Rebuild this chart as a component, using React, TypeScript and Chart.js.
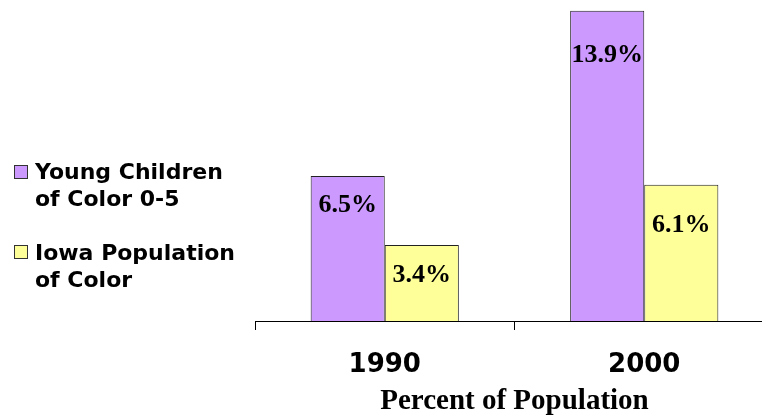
import React, { useEffect, useRef } from "react";
import { Chart, registerables } from "chart.js";

Chart.register(...registerables);

const categories = ["1990", "2000"];
const seriesNames = [
  ["Young Children", "of Color 0-5"],
  ["Iowa Population", "of Color"],
];
const youngChildren = [6.5, 13.9];
const iowaPopulation = [3.4, 6.1];
const valueLabels = [
  ["6.5%", "13.9%"],
  ["3.4%", "6.1%"],
];
const axisTitle = "Percent of Population";

const colors = ["#CC99FF", "#FFFF99"];
// vertical offset (px) of each value label below its bar top
const labelOffsets = [
  [29, 45],
  [30, 40],
];

const valueLabelPlugin = {
  id: "valueLabels",
  afterDatasetsDraw(chart: any) {
    const ctx = chart.ctx;
    ctx.save();
    ctx.font = "bold 26px 'Liberation Serif', 'Times New Roman', serif";
    ctx.fillStyle = "#000";
    ctx.textAlign = "center";
    ctx.textBaseline = "middle";
    chart.data.datasets.forEach((ds: any, di: number) => {
      const meta = chart.getDatasetMeta(di);
      meta.data.forEach((el: any, i: number) => {
        ctx.fillText(valueLabels[di][i], el.x, el.y + labelOffsets[di][i]);
      });
    });
    ctx.restore();
  },
};

export default function App() {
  const ref = useRef<HTMLCanvasElement | null>(null);
  useEffect(() => {
    if (!ref.current) return;
    const chart = new Chart(ref.current, {
      type: "bar",
      data: {
        labels: categories,
        datasets: [
          {
            label: seriesNames[0].join(" "),
            data: youngChildren,
            backgroundColor: colors[0],
            borderColor: "#222222",
            borderWidth: 1,
            categoryPercentage: 0.571,
            barPercentage: 1,
          },
          {
            label: seriesNames[1].join(" "),
            data: iowaPopulation,
            backgroundColor: colors[1],
            borderColor: "#222222",
            borderWidth: 1,
            categoryPercentage: 0.571,
            barPercentage: 1,
          },
        ],
      },
      options: {
        animation: false,
        responsive: false,
        layout: { padding: { left: 255, top: 8.5, right: 0, bottom: 0 } },
        plugins: {
          legend: { display: false },
          tooltip: { enabled: false },
        },
        scales: {
          x: {
            grid: {
              display: true,
              drawOnChartArea: false,
              drawTicks: true,
              tickLength: 9,
              color: "#000",
              offset: true,
            },
            border: { display: true, color: "#000", width: 1 },
            ticks: {
              color: "#000",
              padding: 20,
              font: { family: "'DejaVu Sans', sans-serif", weight: "bold", size: 26 },
            },
            title: {
              display: true,
              text: axisTitle,
              color: "#000",
              padding: { top: 0, bottom: -4 },
              font: { family: "'Liberation Serif', serif", weight: "bold", size: 29 },
            },
            afterFit: (scale: any) => {
              scale.height = 94;
            },
          },
          y: {
            display: false,
            min: 0,
            max: 14,
          },
        },
      },
      plugins: [valueLabelPlugin],
    } as any);
    return () => chart.destroy();
  }, []);

  const legendTops = [158, 239];
  const boxTops = [165, 245];

  return (
    <div
      style={{
        position: "absolute",
        left: 0,
        top: 0,
        width: 762,
        height: 415,
        overflow: "hidden",
        background: "#fff",
      }}
    >
      <canvas
        ref={ref}
        width={774}
        height={415}
        style={{ position: "absolute", left: 0, top: 0, width: 774, height: 415 }}
      />
      {seriesNames.map((lines, i) => (
        <React.Fragment key={i}>
          <div
            style={{
              position: "absolute",
              left: 14,
              top: boxTops[i],
              width: 12,
              height: 12,
              background: colors[i],
              border: "1px solid #333",
            }}
          />
          <div
            style={{
              position: "absolute",
              left: 35,
              top: legendTops[i],
              fontFamily: "'DejaVu Sans', sans-serif",
              fontWeight: "bold",
              fontSize: 22,
              lineHeight: "27px",
              color: "#000",
              whiteSpace: "nowrap",
            }}
          >
            {lines.map((l, j) => (
              <div key={j}>{l}</div>
            ))}
          </div>
        </React.Fragment>
      ))}
    </div>
  );
}
